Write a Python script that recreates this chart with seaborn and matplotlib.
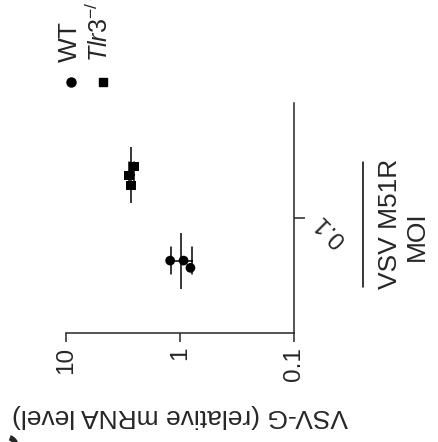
import numpy as np
import pandas as pd
import matplotlib
matplotlib.use('Agg')
import matplotlib.pyplot as plt
import seaborn as sns
from matplotlib.markers import MarkerStyle
from matplotlib.ticker import NullLocator

# ---- data ----
moi_levels = ['0.1']
genotypes = ['WT', 'Tlr3-/-']
legend_labels = ['WT', r'$\mathit{Tlr3}^{-/-}$']
wt_vals = [1.22, 0.93, 0.81]
tlr3_vals = [2.71, 2.53, 2.79]
value_ticks = [10, 1, 0.1]
value_ticklabels = ['10', '1', '0.1']

df = pd.DataFrame({
    'MOI': moi_levels * (len(wt_vals) + len(tlr3_vals)),
    'genotype': [genotypes[0]] * len(wt_vals) + [genotypes[1]] * len(tlr3_vals),
    'VSV-G': wt_vals + tlr3_vals,
})

# ---- style ----
sns.set_style('ticks')
plt.rcParams['font.family'] = ['Liberation Sans', 'DejaVu Sans']
plt.rcParams['mathtext.fontset'] = 'custom'
plt.rcParams['mathtext.rm'] = 'Liberation Sans'
plt.rcParams['mathtext.it'] = 'Liberation Sans:italic'

fig = plt.figure(figsize=(4.38, 4.42), dpi=100)
ax = fig.add_axes([66 / 438, 1 - 333 / 442, 228 / 438, 230 / 442])
ax.set_xscale('log')

# individual points (figure is drawn rotated: value axis horizontal)
sns.swarmplot(data=df, x='VSV-G', y='MOI', hue='genotype', hue_order=genotypes,
              dodge=True, palette=['black', 'black'], size=7, legend=False, ax=ax)

# square markers for the knockout group
sq = MarkerStyle('s')
sq_path = sq.get_path().transformed(sq.get_transform())
for coll in ax.collections:
    offs = coll.get_offsets()
    if len(offs) and np.mean(offs[:, 0]) > 1.8:
        coll.set_paths([sq_path])

# mean + SD
sns.pointplot(data=df, x='VSV-G', y='MOI', hue='genotype', hue_order=genotypes,
              dodge=0.4, errorbar='sd', capsize=0.13, markers='|', linestyle='none',
              palette=['black', 'black'], markersize=40, markeredgewidth=1.1,
              err_kws={'linewidth': 1.1}, legend=False, ax=ax)

ax.set_xlim(10, 0.1)
ax.set_ylim(-0.54, 0.54)

# axes / ticks
for s in ['top', 'left']:
    ax.spines[s].set_visible(False)
for s in ['bottom', 'right']:
    ax.spines[s].set_linewidth(1.1)

ax.set_xticks(value_ticks)
ax.set_xticklabels(value_ticklabels, rotation=90)
ax.xaxis.set_minor_locator(NullLocator())
ax.tick_params(axis='x', length=6.5, width=1.1, pad=3.5, labelsize=17.5)

ax.yaxis.tick_right()
ax.set_yticks([0])
ax.set_yticklabels(moi_levels, rotation=135, rotation_mode='anchor', ha='right', va='center')
ax.tick_params(axis='y', length=8, width=1.1, pad=9, labelsize=17.5)
ax.set_ylabel('')

ax.set_xlabel('VSV-G (relative mRNA level)', rotation=180, fontsize=19)
ax.xaxis.set_label_coords(0.5, -0.31)

# label block under the categorical axis
ax.plot([1.303, 1.303], [0.2, 0.743], color='black', lw=1.1,
        transform=ax.transAxes, clip_on=False)
ax.text(1.421, 0.476, 'VSV M51R', rotation=90, ha='center', va='center',
        fontsize=19, transform=ax.transAxes)
ax.text(1.539, 0.422, 'MOI', rotation=90, ha='center', va='center',
        fontsize=19, transform=ax.transAxes)

# legend drawn by hand (rotated text)
ax.plot([0.022], [1.091], 'o', color='black', markersize=6.5,
        transform=ax.transAxes, clip_on=False)
ax.plot([0.162], [1.091], 's', color='black', markersize=5.5,
        transform=ax.transAxes, clip_on=False)
ax.text(0.0175, 1.178, legend_labels[0], rotation=90, ha='center', va='bottom',
        fontsize=19, transform=ax.transAxes)
ax.text(0.147, 1.178, legend_labels[1], rotation=90, ha='center', va='bottom',
        fontsize=18, transform=ax.transAxes)

# panel letter (mostly cut off)
fig.text(-0.03, 0.0226, 'C', rotation=90, fontsize=30, fontweight='bold',
         ha='left', va='top')

fig.savefig('out.png', dpi=100)
